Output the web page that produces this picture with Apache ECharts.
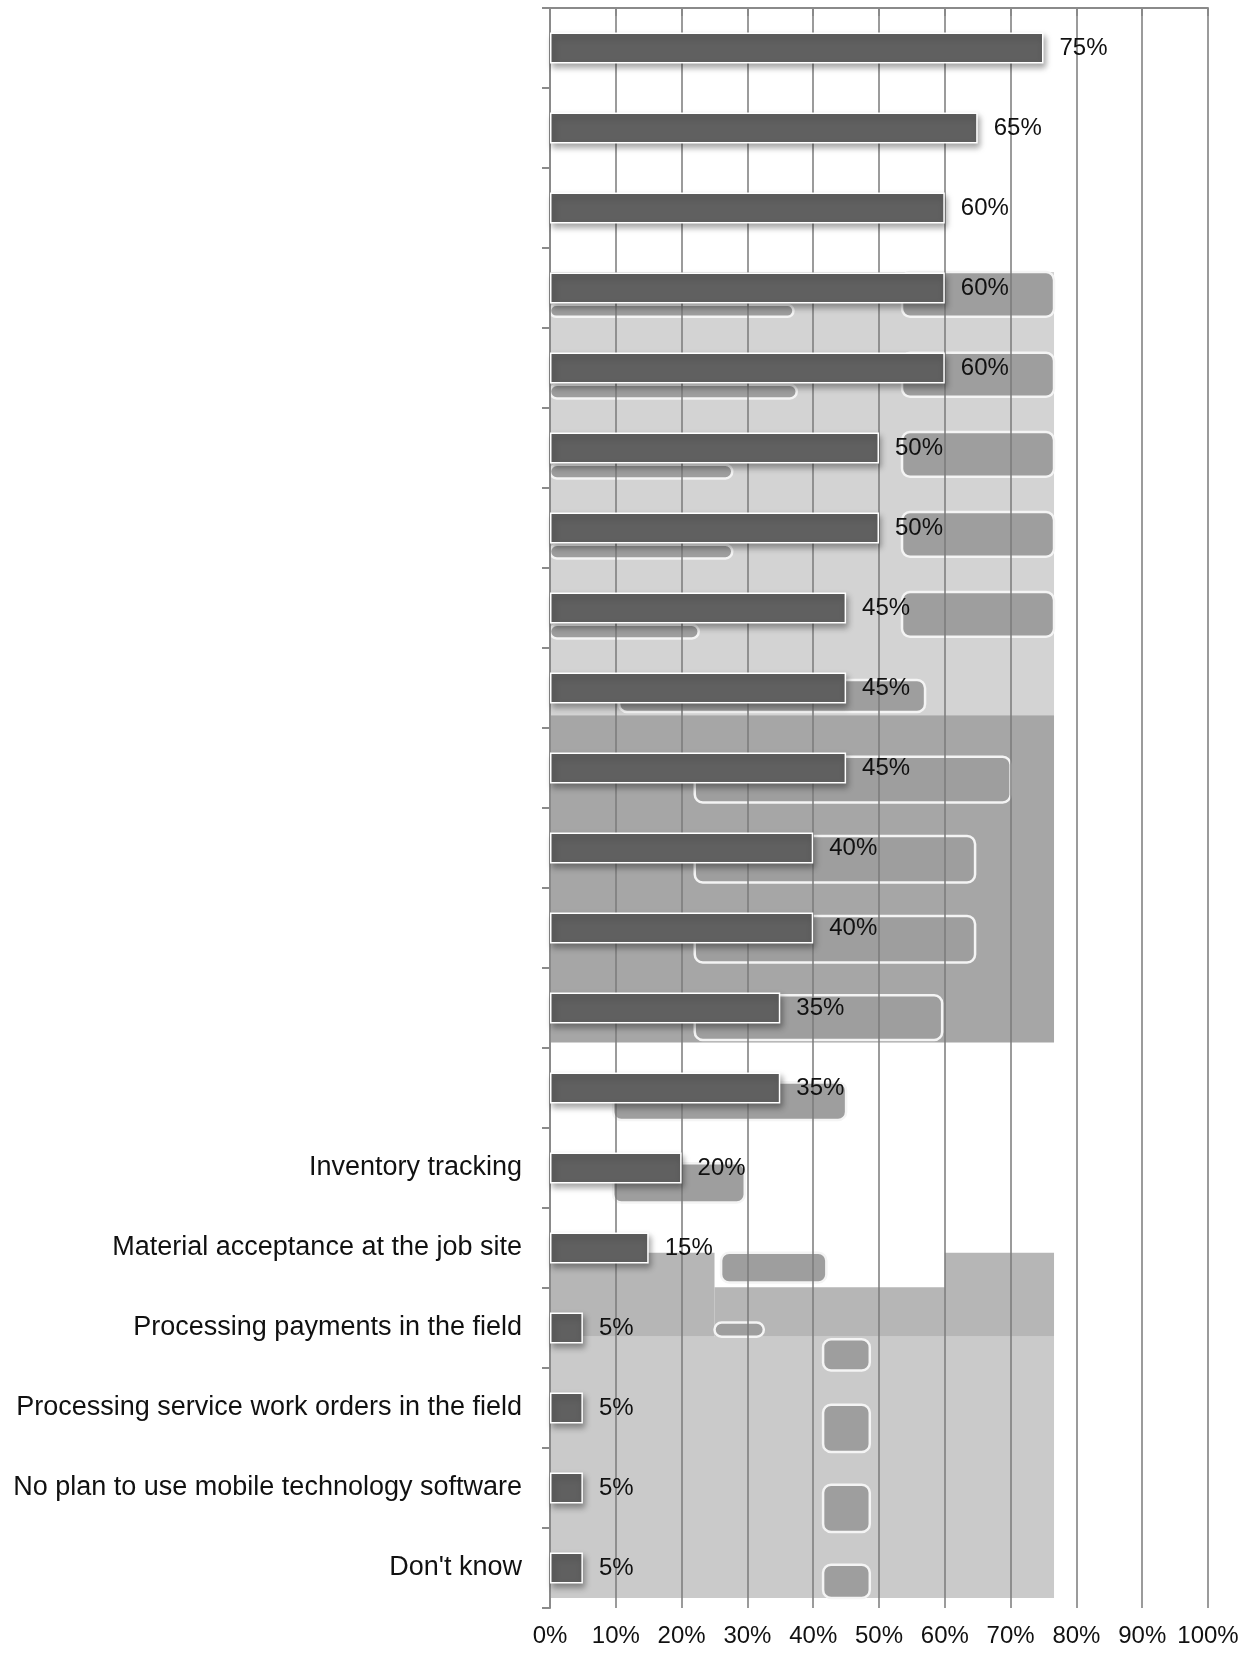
<!DOCTYPE html>
<html>
<head>
<meta charset="utf-8">
<script src="https://cdn.jsdelivr.net/npm/echarts@6/dist/echarts.min.js"></script>
<style>
  html, body { margin: 0; padding: 0; background: #fff; }
  #chart { width: 1259px; height: 1657px; }
</style>
</head>
<body>
<div id="chart"></div>
<script>
// category labels (top rows have no visible label in the source)
const labels = [
  '', '', '', '', '', '', '', '', '', '', '', '', '', '',
  'Inventory tracking',
  'Material acceptance at the job site',
  'Processing payments in the field',
  'Processing service work orders in the field',
  'No plan to use mobile technology software',
  "Don't know"
];
const values = [75, 65, 60, 60, 60, 50, 50, 45, 45, 45, 40, 40, 35, 35, 20, 15, 5, 5, 5, 5];
const xTicks = [0, 10, 20, 30, 40, 50, 60, 70, 80, 90, 100];

// grey background patches of the scanned picture: [x0, x1, row0, row1]
const panelsLight = [[0, 76.6, 3.3, 8.84]];
const panelsDark = [[0, 76.6, 8.84, 12.93]];
const panelsMid = [[0, 25, 15.56, 16.61], [60, 76.6, 15.56, 16.61], [25, 60, 15.99, 16.61]];
const panelsPale = [[0, 76.6, 16.61, 19.875]];
const blobs = [
  [53.5, 76.6, 3.3, 3.86], [53.5, 76.6, 4.31, 4.86], [53.5, 76.6, 5.3, 5.86],
  [53.5, 76.6, 6.3, 6.86], [53.5, 76.6, 7.3, 7.86],
  [0, 37, 3.71, 3.86], [0, 37.5, 4.71, 4.88], [0, 27.7, 5.71, 5.88],
  [0, 27.7, 6.71, 6.88], [0, 22.6, 7.71, 7.88],
  [10.5, 57, 8.4, 8.8],
  [22, 70, 9.36, 9.93], [22, 64.6, 10.35, 10.93], [22, 64.6, 11.35, 11.93], [22, 59.6, 12.34, 12.9],
  [9.6, 45, 13.43, 13.9], [9.6, 29.6, 14.44, 14.93], [26, 42, 15.56, 15.93],
  [25, 32.5, 16.43, 16.61], [41.5, 48.6, 16.64, 17.03],
  [41.5, 48.6, 17.46, 18.05], [41.5, 48.6, 18.46, 19.05], [41.5, 48.6, 19.46, 19.875]
];

const chart = echarts.init(document.getElementById('chart'));

function rectItem(api, rounded) {
  const p0 = api.coord([api.value(0), api.value(2)]);
  const p1 = api.coord([api.value(1), api.value(3)]);
  return {
    type: 'rect',
    shape: { x: p0[0], y: p0[1], width: p1[0] - p0[0], height: p1[1] - p0[1], r: rounded ? 8 : 0 },
    style: rounded
      ? { fill: '#9e9e9e', stroke: '#f4f4f4', lineWidth: 2.5 }
      : { fill: api.visual('color') }
  };
}

function panelSeries(data, color) {
  return {
    type: 'custom',
    yAxisIndex: 1,
    z: -2,
    silent: true,
    itemStyle: { color: color },
    encode: { x: [0, 1], y: [2, 3] },
    renderItem: (params, api) => rectItem(api, false),
    data: data
  };
}

const font = 'Liberation Sans, Arial, sans-serif';

chart.setOption({
  animation: false,
  grid: { left: 550, right: 51, top: 8, bottom: 49 },
  xAxis: {
    type: 'value',
    min: 0,
    max: 100,
    interval: 10,
    axisLine: { show: true, lineStyle: { color: '#8a8a8a', width: 2 } },
    axisTick: { show: true, length: 8, lineStyle: { color: '#8a8a8a', width: 2 } },
    axisLabel: { formatter: '{value}%', fontSize: 24, color: '#111', margin: 16, fontFamily: font },
    splitLine: { show: true, lineStyle: { color: '#7a7a7a', width: 1.5 } }
  },
  yAxis: [
    {
      type: 'category',
      inverse: true,
      data: labels.map((l, i) => i),
      axisLine: { show: true, lineStyle: { color: '#8a8a8a', width: 2 } },
      axisTick: { show: true, length: 8, lineStyle: { color: '#8a8a8a', width: 2 } },
      axisLabel: {
        formatter: (v, i) => labels[i],
        fontSize: 27,
        color: '#111',
        margin: 28,
        fontFamily: font
      }
    },
    { type: 'value', min: 0, max: 20, inverse: true, show: false, splitLine: { show: false } }
  ],
  series: [
    panelSeries(panelsLight, '#d3d3d3'),
    panelSeries(panelsDark, '#a6a6a6'),
    panelSeries(panelsMid, '#b6b6b6'),
    panelSeries(panelsPale, '#cacaca'),
    {
      type: 'custom',
      yAxisIndex: 1,
      z: -1,
      silent: true,
      encode: { x: [0, 1], y: [2, 3] },
      renderItem: (params, api) => rectItem(api, true),
      data: blobs
    },
    {
      type: 'bar',
      data: values,
      barWidth: 31,
      itemStyle: {
        color: '#606060',
        borderColor: '#fff',
        borderWidth: 1.5,
        shadowColor: 'rgba(0,0,0,0.35)',
        shadowBlur: 6,
        shadowOffsetX: 2,
        shadowOffsetY: 4
      },
      label: {
        show: true,
        position: 'right',
        distance: 16,
        formatter: '{c}%',
        fontSize: 24,
        color: '#111',
        fontFamily: font
      }
    }
  ]
});
</script>
</body>
</html>
